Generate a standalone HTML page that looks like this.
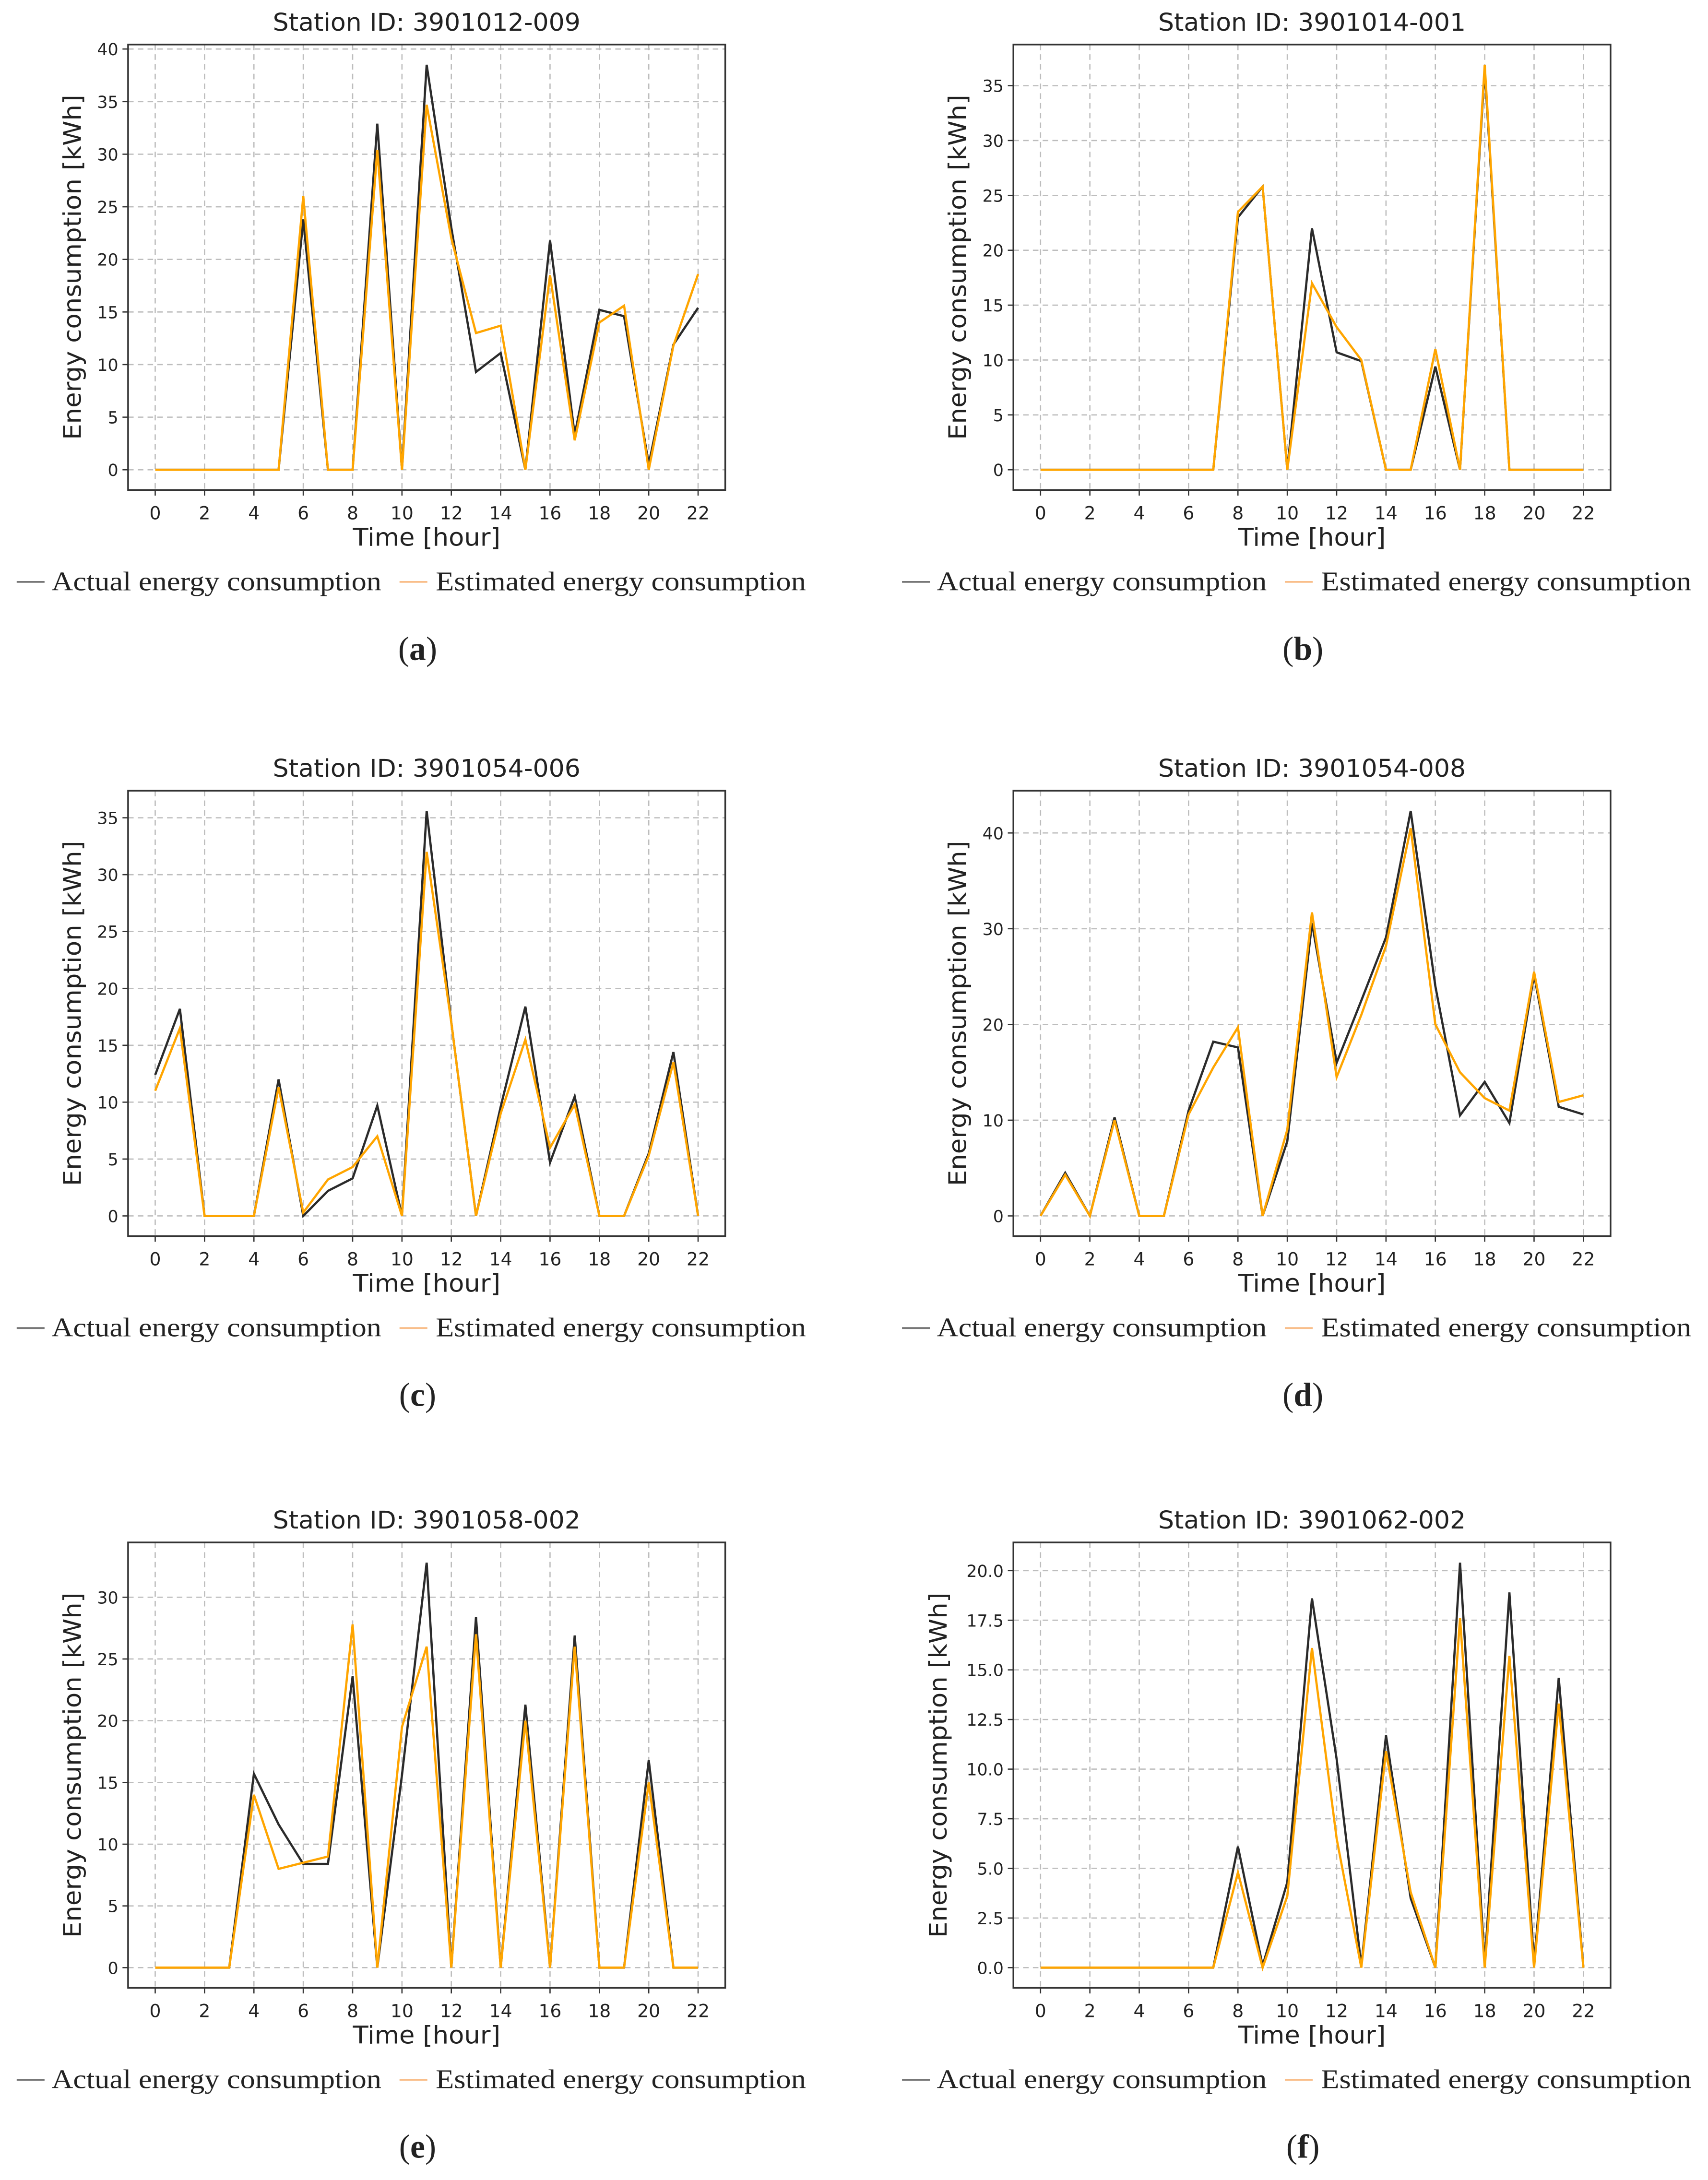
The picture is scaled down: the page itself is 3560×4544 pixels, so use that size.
<!DOCTYPE html>
<html><head><meta charset="utf-8">
<style>
html,body{margin:0;padding:0;background:#fff;}
svg{display:block;}
.tt{font-family:"DejaVu Sans","Liberation Sans",sans-serif;fill:#222;}
.lg{font-family:"Liberation Serif",serif;fill:#222;}
</style></head>
<body>
<svg id="fig" xmlns="http://www.w3.org/2000/svg" width="3560" height="4544" viewBox="0 0 1227 1566" preserveAspectRatio="none"></svg>
<script>
const hours = [0,1,2,3,4,5,6,7,8,9,10,11,12,13,14,15,16,17,18,19,20,21,22];
const titles = ["Station ID: 3901012-009","Station ID: 3901014-001","Station ID: 3901054-006","Station ID: 3901054-008","Station ID: 3901058-002","Station ID: 3901062-002"];
const letters = ["a","b","c","d","e","f"];
const actualA = [0,0,0,0,0,0,23.8,0,0,32.9,0,38.5,23,9.3,11.1,0,21.8,3.3,15.2,14.6,0.5,11.9,15.4];
const estA    = [0,0,0,0,0,0,26,0,0,30.4,0,34.7,22,13,13.7,0,18.5,2.8,14,15.6,0,11.8,18.6];
const actualB = [0,0,0,0,0,0,0,0,23,25.8,0,22,10.7,9.9,0,0,9.4,0,36.5,0,0,0,0];
const estB    = [0,0,0,0,0,0,0,0,23.5,25.8,0,17,13,10,0,0,11,0,36.9,0,0,0,0];
const actualC = [12.4,18.2,0,0,0,12,0,2.2,3.3,9.7,0,35.6,17,0,9.6,18.4,4.7,10.5,0,0,5.5,14.4,0];
const estC    = [11,16.5,0,0,0,11.3,0.3,3.2,4.3,7,0,32,17,0,9,15.5,6,9.8,0,0,5.3,13.5,0];
const actualD = [0,4.5,0,10.3,0,0,11,18.2,17.6,0,7.8,30.6,16,22.5,29.1,42.3,24,10.5,14,9.7,25.2,11.4,10.6];
const estD    = [0,4.3,0,10,0,0,10.6,15.5,19.7,0,9,31.7,14.5,21,28.2,40.5,20,15,12.3,11,25.5,11.9,12.6];
const actualE = [0,0,0,0,15.7,11.6,8.4,8.4,23.6,0,15.6,32.8,0,28.4,0,21.3,0,26.9,0,0,16.8,0,0];
const estE    = [0,0,0,0,14,8,8.5,9,27.8,0,19.5,26,0,27,0,20,0,26,0,0,15,0,0];
const actualF = [0,0,0,0,0,0,0,0,6.1,0.1,4.3,18.6,10.5,0.1,11.7,3.5,0,20.4,0.2,18.9,0.2,14.6,0];
const estF    = [0,0,0,0,0,0,0,0,4.8,0,3.6,16.1,6.5,0,10.9,3.8,0,17.6,0,15.7,0,13.3,0];
const yTicksA = [0,5,10,15,20,25,30,35,40];
const yTicksB = [0,5,10,15,20,25,30,35];
const yTicksC = [0,5,10,15,20,25,30,35];
const yTicksD = [0,10,20,30,40];
const yTicksE = [0,5,10,15,20,25,30];
const yTicksF = [0,2.5,5,7.5,10,12.5,15,17.5,20];
const xTicks = [0,2,4,6,8,10,12,14,16,18,20,22];

const NS="http://www.w3.org/2000/svg";
const fig=document.getElementById('fig');
function mk(tag,attrs,parent){const e=document.createElementNS(NS,tag);for(const k in attrs)e.setAttribute(k,attrs[k]);(parent||fig).appendChild(e);return e;}

const panels=[
 {act:actualA,est:estA,yt:yTicksA,dec:0,left:92,top:32,yl:34},
 {act:actualB,est:estB,yt:yTicksB,dec:0,left:728,top:32,yl:34},
 {act:actualC,est:estC,yt:yTicksC,dec:0,left:92,top:568,yl:34},
 {act:actualD,est:estD,yt:yTicksD,dec:0,left:728,top:568,yl:34},
 {act:actualE,est:estE,yt:yTicksE,dec:0,left:92,top:1108,yl:34},
 {act:actualF,est:estF,yt:yTicksF,dec:1,left:728,top:1108,yl:48}
];
const W=429,H=320;

panels.forEach((p,i)=>{
  const g=mk('g',{});
  
  
  const all=p.act.concat(p.est);
  const mn=Math.min(...all), mx=Math.max(...all), pad=(mx-mn)*0.05;
  const y0=mn-pad, y1=mx+pad;
  const xs=v=>p.left+(v-(-1.1))/(24.2)*W;
  const ys=v=>p.top+H-(v-y0)/(y1-y0)*H;
  const cx=p.left+W/2;
  const t=mk('text',{x:cx,y:p.top-10,'text-anchor':'middle','font-size':17.5,class:'tt',textLength:221,lengthAdjust:'spacingAndGlyphs'},g);
  t.textContent=titles[i];
  
  
  xTicks.forEach(v=>{
    const l=mk('line',{x1:xs(v),x2:xs(v),y1:p.top,y2:p.top+H,stroke:'#bdbdbd','stroke-width':0.9,'stroke-dasharray':'4,3'},g);
    
    
    mk('line',{x1:xs(v),x2:xs(v),y1:p.top+H,y2:p.top+H+4,stroke:'#333','stroke-width':0.9},g);
    const tx=mk('text',{x:xs(v),y:p.top+H+21,'text-anchor':'middle','font-size':13,class:'tt'},g);
    tx.textContent=v;
    
    
  });
  p.yt.forEach(v=>{
    const l=mk('line',{x1:p.left,x2:p.left+W,y1:ys(v),y2:ys(v),stroke:'#bdbdbd','stroke-width':0.9,'stroke-dasharray':'4,3'},g);
    
    
    mk('line',{x1:p.left-4,x2:p.left,y1:ys(v),y2:ys(v),stroke:'#333','stroke-width':0.9},g);
    const ty=mk('text',{x:p.left-7,y:ys(v)+4.5,'text-anchor':'end','font-size':12,class:'tt'},g);
    ty.textContent=v.toFixed(p.dec);
    
    
  });
  const pts=arr=>arr.map((v,k)=>xs(hours[k]).toFixed(2)+','+ys(v).toFixed(2)).join(' ');
  const la=mk('polyline',{points:pts(p.act),fill:'none',stroke:'#2b2b2b','stroke-width':1.6,'stroke-linejoin':'miter'},g);
  
  
  const le=mk('polyline',{points:pts(p.est),fill:'none',stroke:'#ffa500','stroke-width':1.6},g);
  
  
  const fr=mk('rect',{x:p.left,y:p.top,width:W,height:H,fill:'none',stroke:'#333','stroke-width':1.2},g);
  
  
  const xl=mk('text',{x:cx,y:p.top+H+40,'text-anchor':'middle','font-size':17.5,class:'tt',textLength:106,lengthAdjust:'spacingAndGlyphs'},g);
  xl.textContent='Time [hour]';
  
  
  const ycx=p.left-p.yl, ycy=p.top+H/2;
  const yl=mk('text',{x:ycx,y:ycy,'text-anchor':'middle','font-size':17.5,class:'tt',transform:'rotate(-90 '+ycx+' '+ycy+')',textLength:248,lengthAdjust:'spacingAndGlyphs'},g);
  yl.textContent='Energy consumption [kWh]';
  
  
  const off=p.left-80, ly=p.top+H+66;
  const lg1=mk('line',{x1:off,x2:off+20,y1:ly,y2:ly,stroke:'#777','stroke-width':1.3},g);
  
  
  const lt1=mk('text',{x:off+25,y:ly+6,'font-size':19.5,class:'lg',textLength:237,lengthAdjust:'spacingAndGlyphs'},g);
  lt1.textContent='Actual energy consumption';
  
  
  const lg2=mk('line',{x1:off+275,x2:off+295,y1:ly,y2:ly,stroke:'#f9be8a','stroke-width':1.3},g);
  
  
  const lt2=mk('text',{x:off+301,y:ly+6,'font-size':19.5,class:'lg',textLength:266,lengthAdjust:'spacingAndGlyphs'},g);
  lt2.textContent='Estimated energy consumption';
  
  
  const sl=mk('text',{x:p.left+208,y:p.top+H+122,'text-anchor':'middle','font-size':24,class:'lg'},g);
  sl.innerHTML='(<tspan font-weight="bold">'+letters[i]+'</tspan>)';
  
  
});
</script>
</body></html>
